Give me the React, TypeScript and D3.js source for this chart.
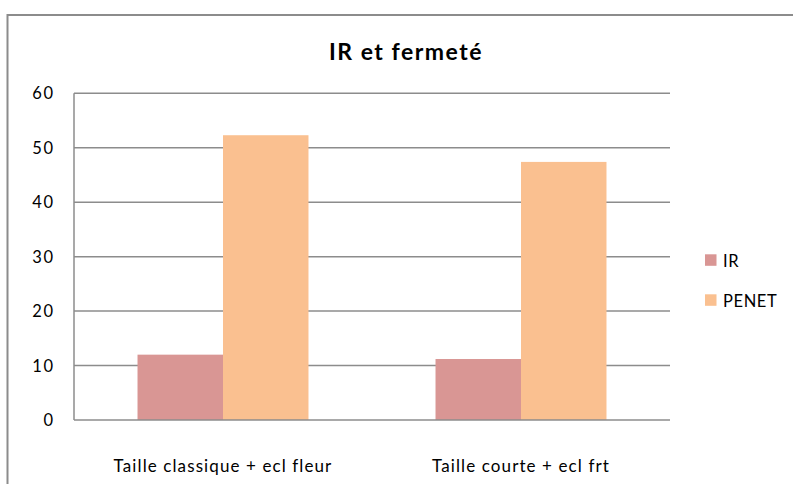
import React, { useRef, useEffect } from 'react';
import * as d3 from 'd3';

// chart data
const categories = ['Taille classique + ecl fleur', 'Taille courte + ecl frt'];
const seriesNames = ['IR', 'PENET'];
const irValues = [12, 11.2];
const penetValues = [52.3, 47.4];
const yTicks = [0, 10, 20, 30, 40, 50, 60];
const colors = ['#D99694', '#FAC090'];

const W = 793;
const H = 484;
const FONT = 'Lato, "Open Sans", sans-serif';

const App = () => {
    const ref = useRef<SVGSVGElement>(null);

    useEffect(() => {
        document.body.style.margin = '0';
        const svg = d3.select(ref.current);
        svg.selectAll('*').remove();

        const plot = { left: 74, right: 670, top: 93.3, bottom: 420 };

        // outer chart frame (only top and left edges fall inside the picture)
        svg.append('rect')
            .attr('x', 7.5).attr('y', 15)
            .attr('width', 820).attr('height', 520)
            .attr('fill', 'white')
            .attr('stroke', '#8c8c8c')
            .attr('stroke-width', 2);

        // title
        svg.append('text')
            .attr('x', 406).attr('y', 59.5)
            .attr('text-anchor', 'middle')
            .attr('font-family', FONT)
            .attr('font-weight', 'bold')
            .attr('font-size', 23)
            .attr('letter-spacing', 1.5)
            .attr('fill', '#000')
            .text('IR et fermeté');

        const y = d3.scaleLinear().domain([0, 60]).range([plot.bottom, plot.top]);
        const x0 = d3.scaleBand().domain(categories).range([plot.left, plot.right]).padding(0);
        const x1 = d3.scaleBand().domain(seriesNames).range([0, x0.bandwidth()])
            .paddingInner(0).paddingOuter(0.743);

        // gridlines
        svg.append('g')
            .selectAll('line')
            .data(yTicks.filter(t => t > 0))
            .enter()
            .append('line')
            .attr('x1', plot.left).attr('x2', plot.right)
            .attr('y1', d => y(d)).attr('y2', d => y(d))
            .attr('stroke', '#8c8c8c')
            .attr('stroke-width', 1.5);

        // bars
        const values = [irValues, penetValues];
        const rows = categories.map((c, i) => ({
            cat: c,
            vals: seriesNames.map((s, j) => ({ s, v: values[j][i], color: colors[j] }))
        }));
        const groups = svg.append('g')
            .selectAll('g')
            .data(rows)
            .enter()
            .append('g')
            .attr('transform', d => `translate(${x0(d.cat)},0)`);
        groups.selectAll('rect')
            .data(d => d.vals)
            .enter()
            .append('rect')
            .attr('x', d => x1(d.s)!)
            .attr('width', x1.bandwidth())
            .attr('y', d => y(d.v))
            .attr('height', d => plot.bottom - y(d.v))
            .attr('fill', d => d.color);

        // axes lines
        svg.append('line')
            .attr('x1', plot.left).attr('x2', plot.left)
            .attr('y1', plot.top).attr('y2', plot.bottom)
            .attr('stroke', '#8c8c8c').attr('stroke-width', 1.5);
        svg.append('line')
            .attr('x1', plot.left).attr('x2', plot.right)
            .attr('y1', plot.bottom).attr('y2', plot.bottom)
            .attr('stroke', '#8c8c8c').attr('stroke-width', 1.5);

        // y tick labels
        svg.append('g')
            .selectAll('text')
            .data(yTicks)
            .enter()
            .append('text')
            .attr('x', 54.5)
            .attr('y', d => y(d) + 6)
            .attr('text-anchor', 'end')
            .attr('font-family', FONT)
            .attr('font-size', 16.5)
            .attr('letter-spacing', 1.5)
            .attr('fill', '#000')
            .text(d => d);

        // category labels
        svg.append('g')
            .selectAll('text')
            .data(categories)
            .enter()
            .append('text')
            .attr('x', d => x0(d)! + x0.bandwidth() / 2)
            .attr('y', 472)
            .attr('text-anchor', 'middle')
            .attr('font-family', FONT)
            .attr('font-size', 17)
            .attr('letter-spacing', 1.1)
            .attr('fill', '#000')
            .text(d => d);

        // legend
        const legend = svg.append('g')
            .selectAll('g')
            .data(seriesNames)
            .enter()
            .append('g')
            .attr('transform', (d, i) => `translate(705,${254.3 + i * 40})`);
        legend.append('rect')
            .attr('width', 11.5).attr('height', 11.5)
            .attr('fill', (d, i) => colors[i]);
        legend.append('text')
            .attr('x', 18).attr('y', 12.5)
            .attr('font-family', FONT)
            .attr('font-size', 16.5)
            .attr('letter-spacing', 0.6)
            .attr('fill', '#000')
            .text(d => d);
    }, []);

    return <svg ref={ref} width={W} height={H} style={{ display: 'block' }}></svg>;
};

export default App;
